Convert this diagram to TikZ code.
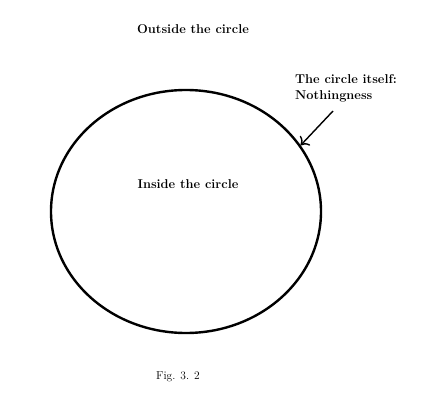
\documentclass[tikz,border=0pt]{standalone}
\usetikzlibrary{arrows.meta,shapes.geometric}
\tikzset{label/.style={font=\bfseries\fontsize{12.8}{16.5}\selectfont,inner sep=0pt},
  rim/.style={draw=black,line width=2.4pt,ellipse,inner sep=0pt},
  pointer/.style={-{To[length=7pt,width=14pt]},line width=1.4pt}}
\begin{document}
\begin{tikzpicture}[x=1pt,y=-1pt]
\useasboundingbox (0,0) rectangle (431,417);
\node[rim,minimum width=270pt,minimum height=243pt] (circle) at (186,211.5) {};
\node[label] (outside) at (193,29) {Outside the circle};
\node[label] (inside) at (188,184) {Inside the circle};
\node[label,align=left,anchor=north west] (itself) at (295,74) {The circle itself:\\Nothingness};
\node[font=\fontsize{11.5}{14}\selectfont,inner sep=0pt] (fig) at (178,377) {Fig. 3. 2};
% arrow onto the rim
\coordinate (tail) at (333,111);
\coordinate (tip) at (circle.30.5);
\draw[pointer] (tail) -- (tip);
\end{tikzpicture}
\end{document}
